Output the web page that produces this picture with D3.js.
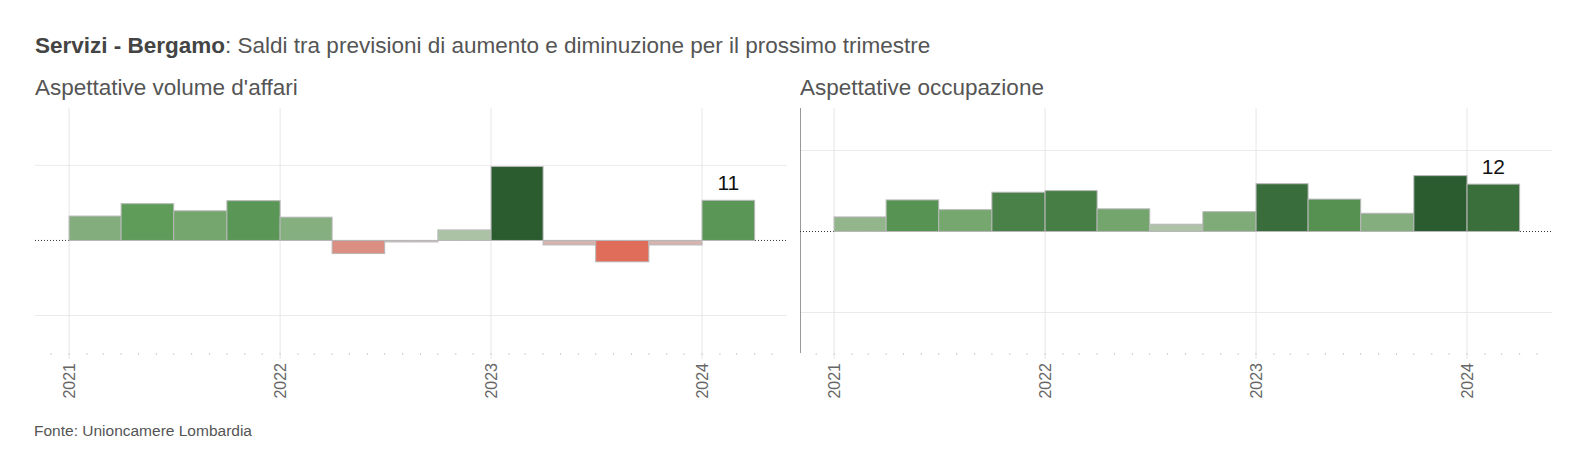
<!DOCTYPE html>
<html>
<head>
<meta charset="utf-8">
<script src="https://cdn.jsdelivr.net/npm/d3@7"></script>
<style>
  body { margin: 0; background: #fff; }
  text { font-family: Arial, "Liberation Sans", sans-serif; }
</style>
</head>
<body>
<script>
// Global variable
const w = 1588;
const h = 472;

// Quarters (start of each quarter)
const quarters = ["2021-01", "2021-04", "2021-07", "2021-10",
                  "2022-01", "2022-04", "2022-07", "2022-10",
                  "2023-01", "2023-04", "2023-07", "2023-10",
                  "2024-01"];

// Saldi
const volumeAffari = [6.5, 9.8, 7.9, 10.6, 6.2, -3.5, -0.4, 2.8, 19.7, -1.2, -5.7, -1.2, 10.7];
const occupazione  = [3.6, 7.8, 5.4, 9.7, 10.1, 5.6, 1.8, 4.9, 11.8, 8.0, 4.5, 13.8, 11.7];

const yearTicks = [2021, 2022, 2023, 2024];
const yGrid = [-20, 20];

const title = "Servizi - Bergamo";
const subtitleText = ": Saldi tra previsioni di aumento e diminuzione per il prossimo trimestre";
const panelTitles = ["Aspettative volume d'affari", "Aspettative occupazione"];
const source = "Fonte: Unioncamere Lombardia";

const parseQ = d3.timeParse("%Y-%m");

// Create SVG element
let svg = d3.select("body")
            .append("svg")
                .attr("width", w)
                .attr("height", h);

// Title
let t = svg.append("text")
    .attr("x", 35)
    .attr("y", 53)
    .attr("font-size", 22.5)
    .attr("fill", "#555");
t.append("tspan").attr("font-weight", "bold").attr("fill", "#444").text(title);
t.append("tspan").text(subtitleText);

svg.append("text")
    .attr("x", 34)
    .attr("y", 436)
    .attr("font-size", 15.5)
    .attr("fill", "#555")
    .text(source);

const panelW = 752;
const plotTop = 108, plotBottom = 353;

function drawPanel(px, values, domain, name, axisLine) {
    let g = svg.append("g").attr("transform", "translate(" + px + ",0)");

    let x = d3.scaleTime()
        .domain([new Date(2020, 10, 3), new Date(2024, 4, 27)])
        .range([0, panelW]);

    let y = d3.scaleLinear()
        .domain(domain)
        .range([plotBottom, plotTop]);

    let maxV = d3.max(values), minV = d3.min(values);
    let color = (v) => v >= 0
        ? d3.scaleLinear().domain([0, maxV / 2, maxV]).range(["#cbd1c4", "#5e9b58", "#2a5c30"])(v)
        : d3.scaleLinear().domain([minV, 0]).range(["#e06c5a", "#d3c6c4"])(v);

    g.append("text")
        .attr("x", 0)
        .attr("y", 95)
        .attr("font-size", 22.5)
        .attr("fill", "#555")
        .text(name);

    // horizontal gridlines
    g.selectAll(".hgrid")
        .data(yGrid)
        .enter()
        .append("line")
        .attr("x1", 0).attr("x2", panelW)
        .attr("y1", (d) => y(d)).attr("y2", (d) => y(d))
        .attr("stroke", "#ebebeb");

    // vertical gridlines + year ticks
    g.selectAll(".vgrid")
        .data(yearTicks)
        .enter()
        .append("line")
        .attr("x1", (d) => x(new Date(d, 0, 1))).attr("x2", (d) => x(new Date(d, 0, 1)))
        .attr("y1", plotTop).attr("y2", plotBottom + 6)
        .attr("stroke", "#e6e6e6");

    // monthly minor ticks
    g.selectAll(".mtick")
        .data(d3.timeMonth.range(x.domain()[0], x.domain()[1]))
        .enter()
        .append("line")
        .attr("x1", (d) => x(d)).attr("x2", (d) => x(d))
        .attr("y1", plotBottom).attr("y2", plotBottom + 2)
        .attr("stroke", "#cfcfcf");

    // year labels
    g.selectAll(".ylab")
        .data(yearTicks)
        .enter()
        .append("text")
        .attr("transform", (d) => "translate(" + x(new Date(d, 0, 1)) + "," + (plotBottom + 10) + ") rotate(-90)")
        .attr("text-anchor", "end")
        .attr("dy", "0.35em")
        .attr("font-size", 16)
        .attr("fill", "#666")
        .text((d) => d);

    if (axisLine) {
        g.append("line")
            .attr("x1", 0.5).attr("x2", 0.5)
            .attr("y1", plotTop).attr("y2", plotBottom)
            .attr("stroke", "#999");
    }

    // zero line
    g.append("line")
        .attr("x1", 0).attr("x2", panelW)
        .attr("y1", y(0)).attr("y2", y(0))
        .attr("stroke", "#333")
        .attr("stroke-dasharray", "1,2");

    let rows = quarters.map((q, i) => ({ start: parseQ(q), end: d3.timeMonth.offset(parseQ(q), 3), value: values[i] }));

    g.selectAll("rect")
        .data(rows)
        .enter()
        .append("rect")
        .attr("x", (d) => x(d.start))
        .attr("width", (d) => x(d.end) - x(d.start))
        .attr("y", (d) => y(Math.max(0, d.value)))
        .attr("height", (d) => Math.abs(y(d.value) - y(0)))
        .attr("fill", (d) => color(d.value))
        .attr("stroke", "#b8b8b8")
        .attr("stroke-width", 1);

    let last = rows[rows.length - 1];
    g.append("text")
        .attr("x", (x(last.start) + x(last.end)) / 2)
        .attr("y", y(last.value) - 10)
        .attr("text-anchor", "middle")
        .attr("font-size", 21)
        .attr("fill", "#111")
        .text(Math.round(last.value));
}

drawPanel(35, volumeAffari, [-30, 35.3], panelTitles[0], false);
drawPanel(800, occupazione, [-30, 30.5], panelTitles[1], true);
</script>
</body>
</html>
